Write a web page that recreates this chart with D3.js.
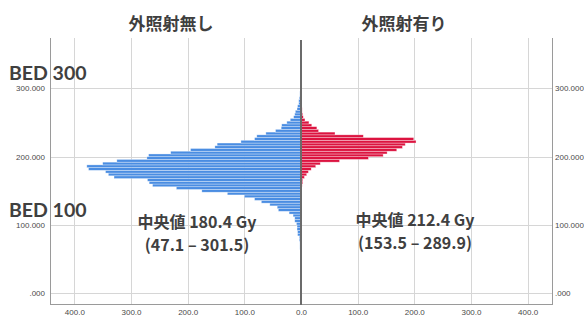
<!DOCTYPE html>
<html>
<head>
<meta charset="utf-8">
<script src="https://cdn.jsdelivr.net/npm/d3@7/dist/d3.min.js"></script>
<style>
  html, body { margin: 0; padding: 0; background: #fff; }
  svg { display: block; }
  .tick text { font-family: "Liberation Sans", Arial, sans-serif; font-size: 8px; fill: #4a4a4a; }
</style>
</head>
<body>
<svg id="chart" width="584" height="320"></svg>
<script>
// Groups shown on each side of the pyramid
const groups = ["外照射無し", "外照射有り"];

// BED bin lower edges (bin width 4 Gy) and patient counts, without external beam
const binWidth = 4;
const binsNo = [44, 48, 52, 56, 60, 64, 68, 72, 76, 80, 84, 88, 92, 96, 100,
  104, 108, 112, 116, 120, 124, 128, 132, 136, 140, 144, 148, 152, 156, 160,
  164, 168, 172, 176, 180, 184, 188, 192, 196, 200, 204, 208, 212, 216, 220,
  224, 228, 232, 236, 240, 244, 248, 252, 256, 260, 264, 268, 272, 276, 280,
  284, 288, 292, 296, 300];
const countsNo = [1, 1, 1, 1, 1, 2, 2, 2, 3, 3, 6, 6, 7, 7, 8,
  11, 11, 14, 21, 40, 42, 55, 70, 82, 100, 130, 175, 220, 262, 268,
  271, 330, 340, 345, 375, 378, 350, 325, 272, 269, 230, 195, 152, 148, 106,
  82, 78, 62, 45, 35, 34, 25, 19, 13, 11, 10, 7, 6, 4, 4,
  3, 2, 2, 1, 1];

// BED bin lower edges and patient counts, with external beam
const binsYes = [152, 156, 160, 164, 168, 172, 176, 180, 184, 188, 192, 196,
  200, 204, 208, 212, 216, 220, 224, 228, 232, 236, 240, 244, 248, 252, 256,
  260, 264, 268, 272, 276, 280, 284, 288];
const countsYes = [1, 2, 3, 3, 6, 10, 13, 18, 26, 34, 68, 119,
  145, 152, 169, 179, 184, 203, 199, 110, 60, 31, 28, 19, 14, 7, 4,
  3, 2, 2, 1, 1, 1, 1, 1];

// Axis ticks
const countTicks = [0, 100, 200, 300, 400];
const bedTicks = [0, 100, 200, 300];

// Summary labels
const summaryNo = ["中央値 180.4 Gy", "(47.1 – 301.5)"];
const summaryYes = ["中央値 212.4 Gy", "(153.5 – 289.9)"];
const bedLabels = [{ text: "BED 300", value: 300 }, { text: "BED 100", value: 100 }];

// Colours
const blue = "#4a8de2";
const red = "#dc1440";

// Layout
const plot = { left: 50, right: 552, top: 38, bottom: 304 };
const cx = 301;

const svg = d3.select("#chart");

const xLeft = d3.scaleLinear().domain([0, 443]).range([cx, plot.left]);
const xRight = d3.scaleLinear().domain([0, 443]).range([cx, plot.right]);
const y = d3.scaleLinear().domain([-15.7, 373.8]).range([plot.bottom, plot.top]);

// Gridlines
const grid = svg.append("g").attr("stroke", "#d6d6d6").attr("stroke-width", 1);
grid.selectAll("line.h").data(bedTicks).join("line")
  .attr("x1", plot.left).attr("x2", plot.right)
  .attr("y1", d => Math.round(y(d)) + 0.5).attr("y2", d => Math.round(y(d)) + 0.5);
grid.selectAll("line.vl").data(countTicks.filter(d => d > 0)).join("line")
  .attr("x1", d => Math.round(xLeft(d)) + 0.5).attr("x2", d => Math.round(xLeft(d)) + 0.5)
  .attr("y1", plot.top).attr("y2", plot.bottom);
grid.selectAll("line.vr").data(countTicks.filter(d => d > 0)).join("line")
  .attr("class", "vr")
  .attr("x1", d => Math.round(xRight(d)) + 0.5).attr("x2", d => Math.round(xRight(d)) + 0.5)
  .attr("y1", plot.top).attr("y2", plot.bottom);

// Histogram bars
const dataNo = binsNo.map((b, i) => ({ b, n: countsNo[i] }));
const dataYes = binsYes.map((b, i) => ({ b, n: countsYes[i] }));

svg.append("g").selectAll("rect").data(dataNo).join("rect")
  .attr("x", d => xLeft(d.n))
  .attr("width", d => xLeft(0) - xLeft(d.n))
  .attr("y", d => y(d.b + binWidth))
  .attr("height", d => y(d.b) - y(d.b + binWidth))
  .attr("fill", blue)
  .attr("stroke", "rgba(255,255,255,0.55)")
  .attr("stroke-width", 0.6);

svg.append("g").selectAll("rect").data(dataYes).join("rect")
  .attr("x", xRight(0))
  .attr("width", d => xRight(d.n) - xRight(0))
  .attr("y", d => y(d.b + binWidth))
  .attr("height", d => y(d.b) - y(d.b + binWidth))
  .attr("fill", red)
  .attr("stroke", "rgba(255,255,255,0.55)")
  .attr("stroke-width", 0.6);

// Frame
const frame = svg.append("g").attr("stroke", "#9a9a9a").attr("stroke-width", 1).attr("fill", "none");
frame.append("line").attr("x1", plot.left + 0.5).attr("x2", plot.left + 0.5).attr("y1", plot.top).attr("y2", plot.bottom + 0.5);
frame.append("line").attr("x1", plot.right + 0.5).attr("x2", plot.right + 0.5).attr("y1", plot.top).attr("y2", plot.bottom + 0.5);
frame.append("line").attr("x1", plot.left).attr("x2", plot.right + 1).attr("y1", plot.bottom + 0.5).attr("y2", plot.bottom + 0.5);

// Centre divider
svg.append("line")
  .attr("x1", cx).attr("x2", cx)
  .attr("y1", plot.top + 2).attr("y2", plot.bottom + 1)
  .attr("stroke", "#6b6b6b").attr("stroke-width", 2);

// Axes
const fmtCount = d3.format(".1f");
const fmtBed = d => d3.format(".3f")(d).replace(/^0\./, ".");

svg.append("g").attr("transform", `translate(0,${plot.bottom})`)
  .call(d3.axisBottom(xLeft).tickValues(countTicks).tickFormat(fmtCount).tickSize(0).tickPadding(5))
  .call(g => g.select(".domain").remove());
svg.append("g").attr("transform", `translate(0,${plot.bottom})`)
  .call(d3.axisBottom(xRight).tickValues(countTicks.filter(d => d > 0)).tickFormat(fmtCount).tickSize(0).tickPadding(5))
  .call(g => g.select(".domain").remove());
svg.append("g").attr("transform", `translate(${plot.left},0)`)
  .call(d3.axisLeft(y).tickValues(bedTicks).tickFormat(fmtBed).tickSize(0).tickPadding(5))
  .call(g => g.select(".domain").remove());
svg.append("g").attr("transform", `translate(${plot.right},0)`)
  .call(d3.axisRight(y).tickValues(bedTicks).tickFormat(fmtBed).tickSize(0).tickPadding(3))
  .call(g => g.select(".domain").remove());

// Group titles
const cjk = '"Noto Sans CJK JP", "Noto Sans", sans-serif';
svg.append("g").selectAll("text").data(groups).join("text")
  .attr("x", (d, i) => i === 0 ? 171 : 404)
  .attr("y", 30)
  .attr("text-anchor", "middle")
  .attr("font-family", cjk)
  .attr("font-weight", "bold")
  .attr("font-size", 17)
  .attr("fill", "#3f3f3f")
  .text(d => d);

// BED reference labels
svg.append("g").selectAll("text").data(bedLabels).join("text")
  .attr("x", 9)
  .attr("y", d => y(d.value) - 8)
  .attr("font-family", "Lato, 'Open Sans', sans-serif")
  .attr("font-weight", "bold")
  .attr("font-size", 19.5)
  .attr("fill", "#404040")
  .text(d => d.text);

// Median and range annotations
function summary(lines, x, y0) {
  svg.append("g").selectAll("text").data(lines).join("text")
    .attr("x", x)
    .attr("y", (d, i) => y0 + i * 23)
    .attr("text-anchor", "middle")
    .attr("font-family", cjk)
    .attr("font-weight", "bold")
    .attr("font-size", 16)
    .attr("fill", "#404040")
    .text(d => d);
}
summary(summaryNo, 197, 228);
summary(summaryYes, 415, 226);
</script>
</body>
</html>
